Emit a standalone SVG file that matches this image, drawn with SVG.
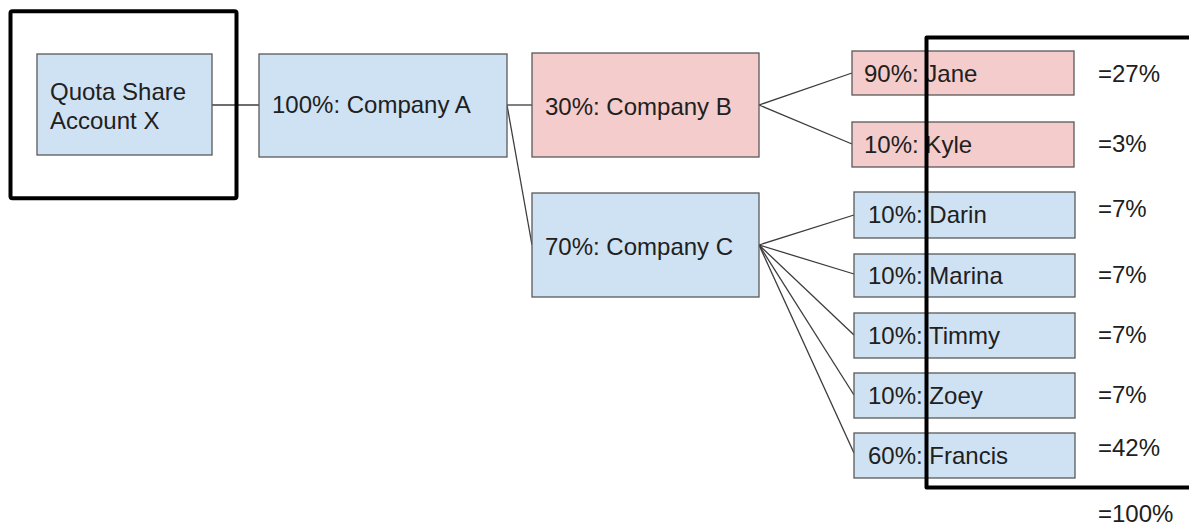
<svg xmlns="http://www.w3.org/2000/svg" width="1189" height="526" viewBox="0 0 1189 526">
  <style>
    .blue { fill: #cfe2f3; stroke: #595959; stroke-width: 1.3; }
    .pink { fill: #f4cccc; stroke: #595959; stroke-width: 1.3; }
    .lbl { font-family: "Liberation Sans", Arial, sans-serif; font-size: 24px; fill: #202020; }
    .link { stroke: #3c3c3c; stroke-width: 1.3; fill: none; }
    .frame { stroke: #000; stroke-width: 4; fill: none; stroke-linejoin: round; }
  </style>
  <rect width="1189" height="526" fill="#fff"/>

  <!-- connectors -->
  <g id="connectors">
    <line class="link" x1="212" y1="105" x2="259" y2="105"/>
    <line class="link" x1="507" y1="105" x2="532" y2="105"/>
    <line class="link" x1="507" y1="105" x2="532" y2="245"/>
    <line class="link" x1="759" y1="105" x2="852" y2="73"/>
    <line class="link" x1="759" y1="105" x2="852" y2="144"/>
    <line class="link" x1="759" y1="245" x2="854" y2="215"/>
    <line class="link" x1="759" y1="245" x2="854" y2="274"/>
    <line class="link" x1="759" y1="245" x2="854" y2="335"/>
    <line class="link" x1="759" y1="245" x2="854" y2="395"/>
    <line class="link" x1="759" y1="245" x2="854" y2="453"/>
  </g>

  <!-- nodes -->
  <g id="account-x">
    <rect class="blue" x="37" y="54" width="175" height="101"/>
    <text class="lbl" x="50" y="100">Quota Share</text>
    <text class="lbl" x="50" y="129">Account X</text>
  </g>
  <g id="company-a">
    <rect class="blue" x="259" y="54" width="248" height="103"/>
    <text class="lbl" x="272" y="113">100%: Company A</text>
  </g>
  <g id="company-b">
    <rect class="pink" x="532" y="53" width="227" height="104"/>
    <text class="lbl" x="545" y="115">30%: Company B</text>
  </g>
  <g id="company-c">
    <rect class="blue" x="532" y="193" width="227" height="104"/>
    <text class="lbl" x="545" y="255">70%: Company C</text>
  </g>
  <g id="jane">
    <rect class="pink" x="852" y="51" width="222" height="44"/>
    <text class="lbl" x="864" y="82">90%: Jane</text>
  </g>
  <g id="kyle">
    <rect class="pink" x="852" y="122" width="222" height="45"/>
    <text class="lbl" x="864" y="153">10%: Kyle</text>
  </g>
  <g id="darin">
    <rect class="blue" x="854" y="192" width="221" height="46"/>
    <text class="lbl" x="868" y="223">10%: Darin</text>
  </g>
  <g id="marina">
    <rect class="blue" x="854" y="254" width="221" height="43"/>
    <text class="lbl" x="868" y="284">10%: Marina</text>
  </g>
  <g id="timmy">
    <rect class="blue" x="854" y="313" width="221" height="45"/>
    <text class="lbl" x="868" y="344">10%: Timmy</text>
  </g>
  <g id="zoey">
    <rect class="blue" x="854" y="373" width="221" height="45"/>
    <text class="lbl" x="868" y="404">10%: Zoey</text>
  </g>
  <g id="francis">
    <rect class="blue" x="854" y="433" width="221" height="45"/>
    <text class="lbl" x="868" y="464">60%: Francis</text>
  </g>

  <!-- effective shares -->
  <g id="shares">
    <text class="lbl" x="1098" y="82">=27%</text>
    <text class="lbl" x="1098" y="152">=3%</text>
    <text class="lbl" x="1098" y="217">=7%</text>
    <text class="lbl" x="1098" y="283">=7%</text>
    <text class="lbl" x="1098" y="343">=7%</text>
    <text class="lbl" x="1098" y="403">=7%</text>
    <text class="lbl" x="1098" y="456">=42%</text>
    <text class="lbl" x="1098" y="522">=100%</text>
  </g>

  <!-- highlight frames -->
  <g id="frames">
    <rect class="frame" x="10.5" y="11.3" width="226" height="187" rx="2"/>
    <polyline class="frame" points="1192,37.5 926.5,37.5 926.5,487.5 1192,487.5"/>
  </g>
</svg>
